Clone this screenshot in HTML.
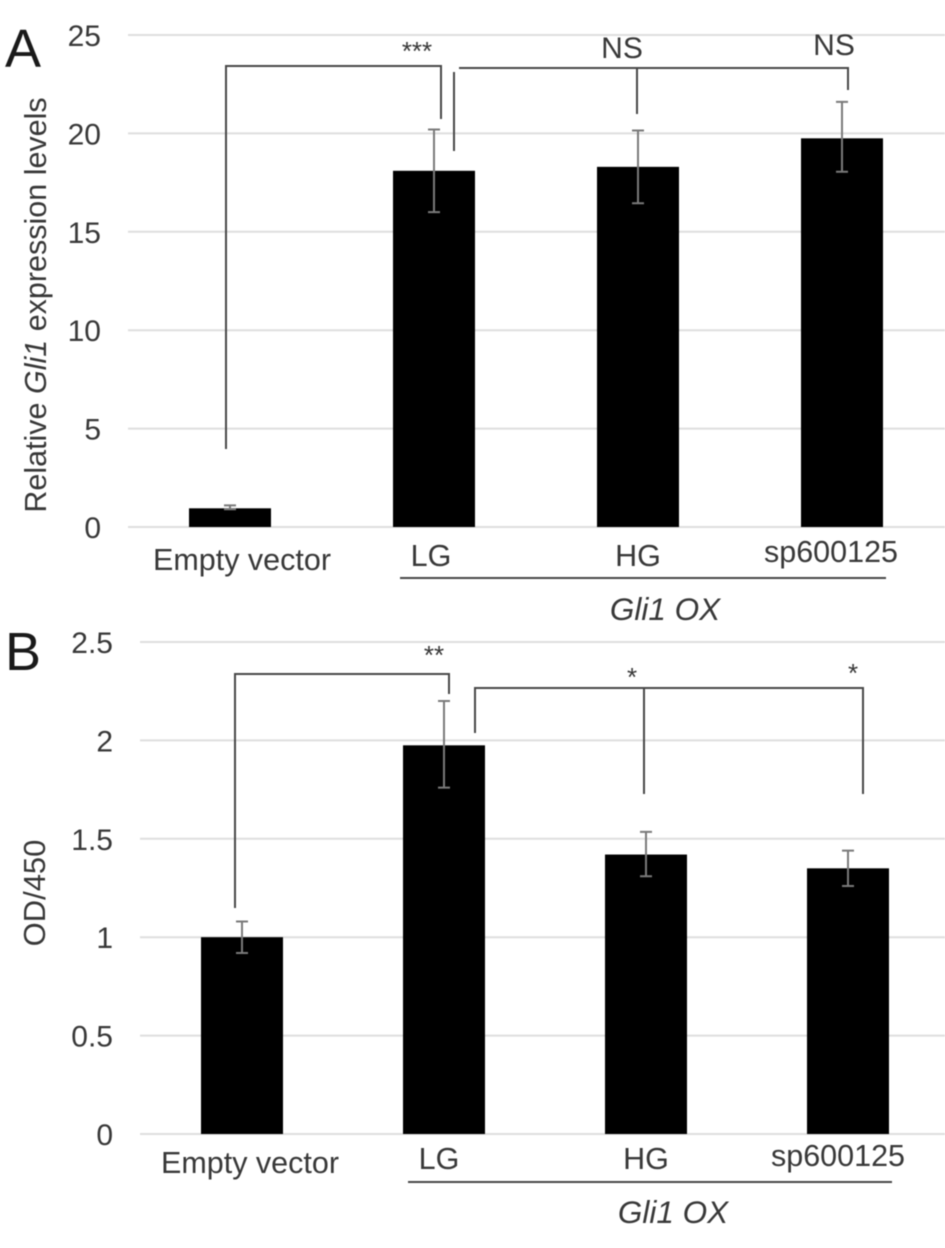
<!DOCTYPE html>
<html lang="en">
<head>
<meta charset="utf-8">
<title>Gli1 expression and OD/450 bar charts</title>
<style>
  html, body { margin: 0; padding: 0; background: #fff; }
  body { width: 945px; height: 1248px; overflow: hidden; }
  svg { display: block; filter: blur(0.5px); }
  text { font-family: "Liberation Sans", sans-serif; fill: #383838; font-size: 30px; }
  .panel { fill: #1a1a1a; font-size: 54px; }
  .bracket { fill: none; stroke: #484848; stroke-width: 2; }
  .sig { font-size: 30px; text-anchor: middle; }
  .lbl { text-anchor: middle; font-size: 30.5px; }
  .group { text-anchor: middle; font-size: 31.5px; font-style: italic; }
</style>
</head>
<body>
<svg id="fig" xmlns="http://www.w3.org/2000/svg" width="945" height="1248" viewBox="0 0 945 1248">
  <rect width="945" height="1248" fill="#fff"/>
  <g id="chartA"></g>
  <g id="chartB"></g>

  <text class="panel" x="5" y="67">A</text>
  <text class="panel" x="5" y="670">B</text>

  <text transform="translate(46,305) rotate(-90)" text-anchor="middle" style="font-size:30.5px">Relative <tspan font-style="italic">Gli1</tspan> expression levels</text>
  <text transform="translate(45,893) rotate(-90)" text-anchor="middle" style="font-size:31px">OD/450</text>

  <line x1="400" y1="578" x2="886" y2="578" stroke="#484848" stroke-width="2"/>
  <text class="group" x="665" y="620">Gli1 OX</text>
  <line x1="408" y1="1182" x2="892" y2="1182" stroke="#484848" stroke-width="2"/>
  <text class="group" x="673" y="1223">Gli1 OX</text>

  <path class="bracket" d="M226 449V66H441V119"/>
  <path class="bracket" d="M454 151V72M459 68H848V90M637 68V114"/>
  <path class="bracket" d="M235 908V674H449V694"/>
  <path class="bracket" d="M475 733V688H863V794M644 688V794"/>

  <text class="sig" x="417" y="60" style="font-size:26px">***</text>
  <text class="sig" x="622" y="58">NS</text>
  <text class="sig" x="834" y="55">NS</text>
  <text class="sig" x="434" y="664" style="font-size:26px">**</text>
  <text class="sig" x="632" y="686" style="font-size:26px">*</text>
  <text class="sig" x="853" y="682" style="font-size:26px">*</text>
</svg>
<script>
const categories = ["Empty vector", "LG", "HG", "sp600125"];

const ticksA = [0, 5, 10, 15, 20, 25];
const valuesA = [0.95, 18.1, 18.3, 19.75];
const errHighA = [1.1, 20.2, 20.15, 21.6];
const errLowA = [0.9, 16, 16.45, 18.05];

const ticksB = [0, 0.5, 1, 1.5, 2, 2.5];
const valuesB = [1, 1.975, 1.42, 1.35];
const errHighB = [1.08, 2.2, 1.535, 1.44];
const errLowB = [0.92, 1.76, 1.31, 1.26];

const SVG_NS = "http://www.w3.org/2000/svg";

function make(parent, tag, attrs, text) {
  const el = document.createElementNS(SVG_NS, tag);
  for (const k in attrs) el.setAttribute(k, attrs[k]);
  if (text !== undefined) el.textContent = text;
  parent.appendChild(el);
  return el;
}

function drawChart(cfg) {
  const root = document.getElementById(cfg.id);
  const yScale = v => cfg.y0 - (v / cfg.yMax) * (cfg.y0 - cfg.yTop);
  const xScale = i => cfg.x0 + i * cfg.step;

  cfg.ticks.forEach(t => {
    const grid = make(root, "line", {x1: cfg.gridLeft, x2: 945, y1: yScale(t), y2: yScale(t), stroke: "#dedede", "stroke-width": 2});
    
    
    const label = make(root, "text", {x: cfg.tickRight, y: yScale(t) + 11, "text-anchor": "end"}, String(t));
    
    
  });

  categories.forEach((c, i) => {
    const cx = xScale(i);
    const bar = make(root, "rect", {x: cx - 41, width: 82, y: yScale(cfg.values[i]), height: cfg.y0 - yScale(cfg.values[i]), fill: "#000"});
    
    

    const hi = yScale(cfg.high[i]);
    const lo = yScale(cfg.low[i]);
    const err = make(root, "path", {d: "M" + (cx - 6) + " " + hi + "H" + (cx + 6) + "M" + cx + " " + hi + "V" + lo + "M" + (cx - 6) + " " + lo + "H" + (cx + 6), fill: "none", stroke: "#7a7a7a", "stroke-width": 2});
    
    

    const cat = make(root, "text", {class: "lbl", x: cfg.labelX[i], y: cfg.labelY[i]}, c);
    
    
  });
}

drawChart({
  id: "chartA", ticks: ticksA, values: valuesA, high: errHighA, low: errLowA,
  yMax: 25, yTop: 35, y0: 527, x0: 230, step: 204, gridLeft: 128, tickRight: 101,
  labelX: [242, 431, 638, 831], labelY: [570, 566, 566, 562]
});
drawChart({
  id: "chartB", ticks: ticksB, values: valuesB, high: errHighB, low: errLowB,
  yMax: 2.5, yTop: 642, y0: 1134, x0: 242, step: 202, gridLeft: 140, tickRight: 113,
  labelX: [250, 439, 646, 838], labelY: [1173, 1169, 1169, 1166]
});
</script>
</body>
</html>
